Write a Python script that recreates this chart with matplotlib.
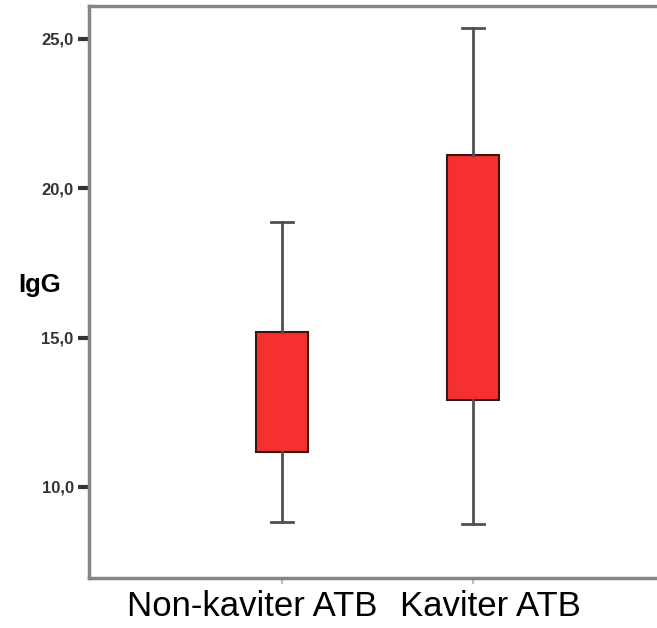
import matplotlib.pyplot as plt
from matplotlib.ticker import FuncFormatter
from matplotlib.transforms import ScaledTranslation

# box statistics
groups = ["Non-kaviter ATB", "Kaviter ATB"]
positions = [1, 2]
whisker_low = [8.84, 8.76]
box_low = [11.17, 12.91]
box_high = [15.20, 21.10]
whisker_high = [18.86, 25.36]
y_ticks = [10.0, 15.0, 20.0, 25.0]

plt.rcParams["font.family"] = ["Liberation Sans", "DejaVu Sans"]

fig = plt.figure(figsize=(6.57, 6.28), dpi=100)
ax = fig.add_axes([89 / 657, 50 / 628, 573 / 657, 572 / 628])

stats = []
for lo, q1, q3, hi in zip(whisker_low, box_low, box_high, whisker_high):
    stats.append({"whislo": lo, "q1": q1, "med": q1, "q3": q3, "whishi": hi, "fliers": []})

ax.bxp(
    stats,
    positions=positions,
    widths=0.27,
    patch_artist=True,
    showfliers=False,
    boxprops=dict(facecolor="#f5302e", edgecolor="#3a1515", linewidth=1.5),
    whiskerprops=dict(color="#505050", linewidth=2),
    capprops=dict(color="#505050", linewidth=2),
    medianprops=dict(linewidth=0),
    capwidths=0.115,
    zorder=3,
)

ax.set_xlim(-0.01, 2.99)
ax.set_ylim(6.95, 26.1)

ax.set_yticks(y_ticks)
ax.yaxis.set_major_formatter(FuncFormatter(lambda v, _: f"{v:.1f}".replace(".", ",")))
ax.tick_params(axis="y", length=8, width=3, color="#333333", labelsize=12, pad=3)
for lbl in ax.get_yticklabels():
    lbl.set_fontweight("bold")
    lbl.set_color("#333333")

ax.set_xticks(positions)
ax.set_xticklabels(groups, fontsize=25)
ax.tick_params(axis="x", length=4, width=1.5, color="#bbbbbb", pad=5)
shifts = [-30, 17]
for lbl, dx in zip(ax.get_xticklabels(), shifts):
    lbl.set_transform(lbl.get_transform() + ScaledTranslation(dx / 100, 0, fig.dpi_scale_trans))

ax.set_ylabel("IgG", rotation=0, fontsize=18.5, fontweight="bold", va="center")
ax.yaxis.set_label_coords(-0.087, 0.512)

for side in ["left", "bottom", "top"]:
    ax.spines[side].set_color("#858585")
    ax.spines[side].set_linewidth(2.5)
ax.spines["right"].set_visible(False)

fig.savefig("out.png", dpi=100)
